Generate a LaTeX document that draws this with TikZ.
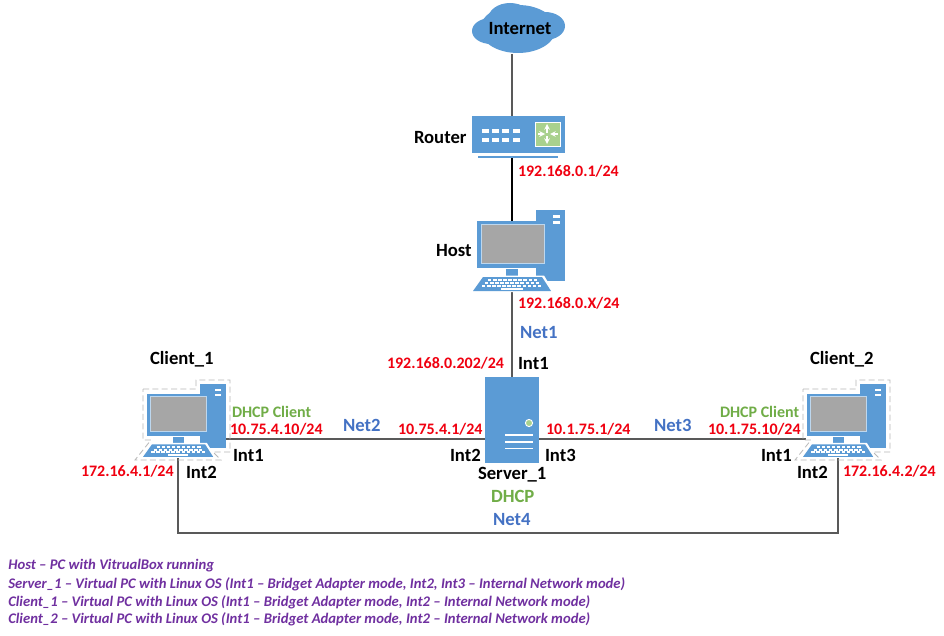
\documentclass[tikz,border=0pt]{standalone}
\usepackage{fontspec}
\setmainfont{Carlito}
\definecolor{iconblue}{HTML}{5B9BD5}
\definecolor{iconlight}{HTML}{BDD7EE}
\definecolor{screengray}{HTML}{A6A6A6}
\definecolor{greenfill}{HTML}{A9D18E}
\definecolor{labelred}{HTML}{F00010}
\definecolor{labelgreen}{HTML}{70AD47}
\definecolor{labelblue}{HTML}{4472C4}
\definecolor{legendpurple}{HTML}{7030A0}
\definecolor{linegray}{HTML}{595959}
\tikzset{
  stbase/.style={inner sep=0pt,outer sep=0pt,anchor=west,font=\bfseries\fontsize{14}{16}\selectfont},
  stname/.style={stbase,text=black},
  staddr/.style={stbase,text=labelred,font=\bfseries\fontsize{12}{14}\selectfont},
  stdhcp/.style={stbase,text=labelgreen},
  stdhcpsmall/.style={stbase,text=labelgreen,font=\bfseries\fontsize{12}{14}\selectfont},
  stnet/.style={stbase,text=labelblue},
  stlegend/.style={inner sep=0pt,anchor=west,text=legendpurple,font=\itshape\bfseries\fontsize{11}{13}\selectfont},
  iconbox/.style={draw=none,inner sep=0pt,outer sep=0pt},
  wire/.style={draw=linegray,line width=0.8pt},
  selline/.style={draw=black!28,dash pattern=on 4.5pt off 2.5pt,line width=0.6pt},
}
\newcommand{\pcicon}[3]{%
  \begin{scope}[shift={(#1,#2)},scale=#3]
    \fill[iconblue] (63,0) rectangle (92,71);
    \fill[white] (80,5) rectangle (87,7.5);
    \fill[white] (80,11) rectangle (87,13.5);
    \fill[white] (33,58) rectangle (63,68);
    \fill[iconblue] (4,11) rectangle (76,58);
    \draw[iconlight,line width=0.7pt] (8,14) rectangle (71,53);
    \fill[screengray] (8.5,14.5) rectangle (70.5,52.5);
    \fill[iconblue] (33,59) rectangle (45,66);
    \fill[white] (8,65.5) -- (71,65.5) -- (81,82) -- (-3,82) -- cycle;
    \fill[iconblue] (10,67) -- (69,67) -- (78,81) -- (0,81) -- cycle;
    \foreach \r/\a/\b in {70/15/64,73/12/66,76/9/69}
      \draw[white,line width=1.5pt,dash pattern=on 2.6pt off 1.2pt] (\a,\r) -- (\b,\r);
    \fill[white] (28,77.5) rectangle (50,79.5);
  \end{scope}}
\newcommand{\selbox}[2]{%
  \draw[selline,shift={(#1,#2)}] (0,5) -- (53,5) -- (53,-4) -- (87,-4) -- (87,68) -- (70,68) -- (78,76) -- (-8,76) -- (8,56) -- (0,56) -- cycle;}
\begin{document}
\begin{tikzpicture}[x=0.75pt,y=-0.75pt]
\useasboundingbox (0,0) rectangle (944,635);
\fill[white] (0,0) rectangle (944,635);
% anchors of the connectors
\coordinate (axis) at (512,0);
\coordinate (bus) at (0,439);
\coordinate (ringY) at (0,533);
\coordinate (pcfoot) at (0,456);
\coordinate (hosttop) at (0,222);
% cloud shape
\fill[iconblue] (518,29) ellipse (38 and 24);
\fill[iconblue] (491,31) ellipse (19 and 13);
\fill[iconblue] (545,26) ellipse (20 and 14);
\fill[iconblue] (510,19) ellipse (22 and 16);
\fill[iconblue] (527,18) ellipse (13 and 12);
\fill[iconblue] (503,36) ellipse (18 and 9);
\fill[iconblue] (531,38) ellipse (16 and 10);
\node[stname,anchor=center] (internet) at (520,29) {Internet};
\coordinate (internetfoot) at (512,54);
% invisible boxes of the devices
\node[iconbox,minimum width=69.75pt,minimum height=31.5pt] (router) at (518.5,137) {};
\node[iconbox,minimum width=58.5pt,minimum height=60.75pt] (host) at (512,250.5) {};
\node[iconbox,minimum width=40.5pt,minimum height=64.5pt] (server) at (512,420) {};
\node[iconbox,minimum width=48pt,minimum height=54pt] (client1) at (178,420) {};
\node[iconbox,minimum width=48pt,minimum height=54pt] (client2) at (838,420) {};
% connectors
\draw[wire] (internetfoot) -- (router.north -| axis);
\draw[draw=black,line width=0.8pt] (router.south -| axis) -- (hosttop -| axis);
\draw[wire] (host.south -| axis) -- (server.north -| axis);
\draw[wire] (client1.east |- bus) -- (server.west |- bus);
\draw[wire] (server.east |- bus) -- (client2.west |- bus);
\draw[wire] (client1.south |- pcfoot) -- (client1.south |- ringY) -- (client2.south |- ringY) -- (client2.south |- pcfoot);
% router
\fill[iconblue] (472,116) rectangle (565,153);
\fill[iconblue] (478,155.5) rectangle (558,158);
\fill[greenfill] (535,122) rectangle (560,146);
\draw[white,line width=0.6pt] (535,122) rectangle (560,146);
\foreach \px in {482,492,502,513}
  \foreach \py in {129,138}
    \fill[white] (\px,\py) rectangle ++(7,4);
\draw[white,line width=0.9pt,->,>=stealth] (547,133) -- (547,124);
\draw[white,line width=0.9pt,->,>=stealth] (547,136) -- (547,144);
\draw[white,line width=0.9pt,->,>=stealth] (538,134) -- (545,134);
\draw[white,line width=0.9pt,->,>=stealth] (558,134) -- (550,134);
% computers
\pcicon{473}{210}{1}
\selbox{143}{384}
\pcicon{143}{384}{0.9}
\selbox{803}{384}
\pcicon{803}{384}{0.9}
% server
\fill[iconblue] (server.south west) rectangle (server.north east);
\fill[greenfill,draw=white,line width=0.7pt] (529,423) circle (3.6);
\draw[white,line width=1.4pt] (505,435) -- (533,435) (505,442) -- (533,442) (505,448.5) -- (533,448.5);
% names
\node[stname] (lrouter) at (414,138) {Router};
\node[stname] (lhost) at (436,251) {Host};
\node[stname] (lclient1) at (150,359) {Client\_1};
\node[stname] (lclient2) at (810,359) {Client\_2};
\node[stname] (lserver) at (478,475) {Server\_1};
\node[stname] (l1) at (518,364) {Int1};
\node[stname] (l2) at (450,455) {Int2};
\node[stname] (l3) at (545,455) {Int3};
\node[stname] (l4) at (233,455) {Int1};
\node[stname] (l5) at (186,472) {Int2};
\node[stname] (l6) at (761,455) {Int1};
\node[stname] (l7) at (797,472) {Int2};
% addresses
\node[staddr] (a1) at (518,171) {192.168.0.1/24};
\node[staddr] (a2) at (518,303) {192.168.0.X/24};
\node[staddr] (a3) at (387,363) {192.168.0.202/24};
\node[staddr] (a4) at (230,429) {10.75.4.10/24};
\node[staddr] (a5) at (398,429) {10.75.4.1/24};
\node[staddr] (a6) at (546,429) {10.1.75.1/24};
\node[staddr] (a7) at (708,429) {10.1.75.10/24};
\node[staddr] (a8) at (81,471) {172.16.4.1/24};
\node[staddr] (a9) at (843,471) {172.16.4.2/24};
% dhcp
\node[stdhcpsmall] (d1) at (232,412) {DHCP Client};
\node[stdhcpsmall] (d2) at (720,412) {DHCP Client};
\node[stdhcp] (d3) at (491,496) {DHCP};
% nets
\node[stnet] (n1) at (520,333) {Net1};
\node[stnet] (n2) at (343,425) {Net2};
\node[stnet] (n3) at (654,425) {Net3};
\node[stnet] (n4) at (493,520) {Net4};
% legend
\node[stlegend] (t1) at (8,566) {Host – PC with VitrualBox running};
\node[stlegend] (t2) at (8,584) {Server\_1 – Virtual PC with Linux OS (Int1 – Bridget Adapter mode, Int2, Int3 – Internal Network mode)};
\node[stlegend] (t3) at (8,602) {Client\_1 – Virtual PC with Linux OS (Int1 – Bridget Adapter mode, Int2 – Internal Network mode)};
\node[stlegend] (t4) at (8,619) {Client\_2 – Virtual PC with Linux OS (Int1 – Bridget Adapter mode, Int2 – Internal Network mode)};
\end{tikzpicture}
\end{document}
